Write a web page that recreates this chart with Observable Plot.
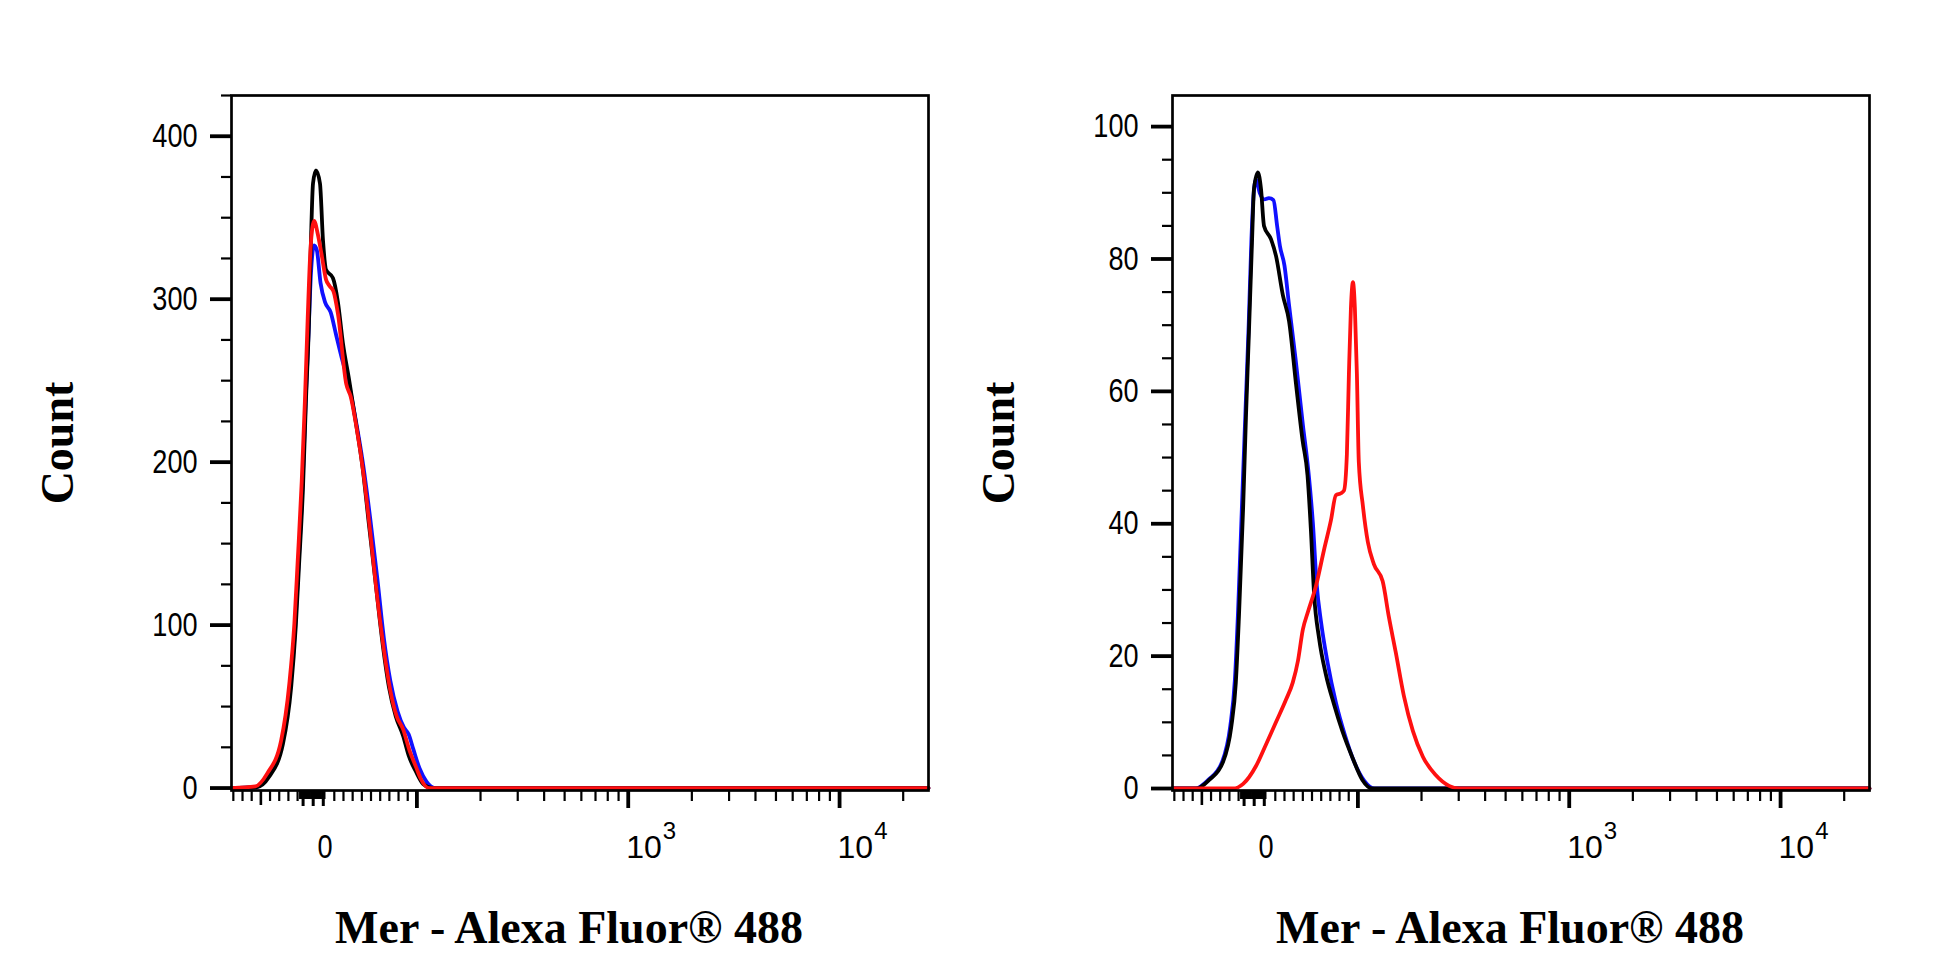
<!DOCTYPE html>
<html><head><meta charset="utf-8">
<script src="https://cdn.jsdelivr.net/npm/d3@7"></script>
<script src="https://cdn.jsdelivr.net/npm/@observablehq/plot@0.6"></script>
<style>
html,body{margin:0;padding:0;background:#fff;}
#row{display:flex;width:1946px;height:973px;overflow:hidden;}
#row svg{display:block;flex:none;}
</style></head><body><div id="row"></div>
<script>
// ---------- data (fluorescence value, count) ----------
const xMin = -102, xMax = 26350;
const xTitle = "Mer - Alexa Fluor® 488";
const yTitle = "Count";

const leftBlack = [[-102,0],[-75,0.5],[-61,7],[-46,27],[-37,62],[-32,99],[-28.5,136],[-24,186],[-21,236],[-17.6,286],[-15.4,336],[-13.2,371],[-10,379],[-5.6,371],[-2.3,336],[1,318],[8.5,313],[14,298],[19.4,273],[26,251],[33.6,224],[41,196],[47.7,162],[55.4,124],[63,87],[69.5,62],[77,44],[85,32],[91,20],[99,10],[107,2.5],[119,0],[26350,0]];
const leftBlue = [[-102,0],[-75,0.5],[-62,8],[-47,28],[-38,63],[-32.5,100],[-29,137],[-24.5,187],[-21.3,236],[-18,280],[-15.5,315],[-12,333],[-9,330],[-5,310],[0,298],[6,292],[12,278],[19,262],[25,250],[33,227],[41,200],[49,166],[57,128],[64,92],[71,66],[79,47],[86,37],[91,33],[96,24],[103,12],[111,4],[122,0],[26350,0]];
const leftRed = [[-102,0],[-76,1],[-63,9],[-48,29],[-39,64],[-33.5,101],[-30,138],[-25.5,188],[-22,238],[-19,288],[-16,330],[-12,348],[-8,340],[-4,328],[1,312],[5,308],[9,305],[14,291],[23,248],[28,240],[34,222],[42,192],[49,158],[56,121],[64,85],[71,60],[78,44],[85,36],[92,23],[99,13],[104,6],[114,0],[26350,0]];

const rightBlack = [[-102,0],[-76,0],[-62,1.3],[-47,4],[-38,9.3],[-33,16],[-29.6,26],[-25,42.6],[-22,56],[-18.7,69],[-15.4,82.5],[-13.2,90.6],[-9,93.1],[-5.6,90.6],[-2.3,85],[5.3,83],[10.7,80.5],[18.3,74.5],[25,70.6],[32.5,61.2],[39.7,52.6],[45.1,47.3],[48.7,39.3],[52.3,29.3],[57.8,22.6],[65,17.3],[74,12.7],[83,8.7],[94,4.7],[105,1.3],[117,0],[26350,0]];
const rightBlue = [[-102,0],[-77,0],[-63,1.3],[-48,4],[-39,9.5],[-34,16.5],[-30.5,27],[-26,44],[-22.5,57],[-19,70],[-16,83],[-13.5,90],[-11,92],[-7,90],[-2,89],[3,89.2],[8,88.9],[12,85],[15,82],[20,79],[25,73],[32,65],[40,55],[46,48],[51,40],[55,31],[60,25],[67,19],[76,13],[86,8],[96,4],[107,1.2],[120,0],[26350,0]];
const rightRed = [[-102,0],[-36,0],[-25,0.7],[-11,3.4],[0,6.7],[10.7,10],[21.6,13.4],[29,16],[34.7,19.3],[40,24],[45.6,26.7],[54.3,30.6],[63,36],[70.6,40.5],[76,44.3],[81.5,44.6],[84.8,45],[88,50.5],[90.2,62.6],[92.4,72.6],[94.6,76.5],[96.7,72.6],[98.9,62.6],[101,49.3],[105.6,42.7],[111.5,37.2],[119,33.9],[131,31.3],[140,26],[151,20.6],[165,14],[182,8.7],[203,4.8],[234,2],[270,0.4],[300,0],[26350,0]];

// ---------- axis ticks ----------
const xMajor = [100, 1000, 10000];
const xMid = [-70];
const xMinor = [-100,-90,-80,-60,-50,-40,-30,10,20,30,40,50,60,70,80,90,
  200,300,400,500,600,700,800,900,2000,3000,4000,5000,6000,7000,8000,9000,20000];
const xZeroCluster = [-27,-25,-23,-21,-19,-17,-15,-13,-11,-9,-7,-5,-3,-1];
const xZeroLong = [-24,-13,-2];
const xZeroLabel = [{v: 0, t: "0"}];
const xPowLabels = [{v: 1000, base: "10", exp: "3"}, {v: 10000, base: "10", exp: "4"}];

const leftYMajor = [0,100,200,300,400];
const leftYMinor = d3.range(25, 426, 25).filter(v => v % 100 !== 0);
const rightYMajor = [0,20,40,60,80,100];
const rightYMinor = d3.range(5, 101, 5).filter(v => v % 20 !== 0);

// biexponential-like display transform (linear below 100, log above)
const tf = v => v >= 100 ? Math.log10(v) : 2 + (v - 100) / (100 * Math.LN10);

const sansFont = "'Liberation Sans', sans-serif";
const serifFont = "'Liberation Serif', 'Times New Roman', serif";

function panel({series, yDomain, yMajor, yMinor, marginLeft, marginRight, width}) {
  const none = () => "";
  return Plot.plot({
    width, height: 973,
    marginTop: 95, marginBottom: 183, marginLeft, marginRight,
    style: {fontFamily: sansFont, fontSize: "33px", background: "white", color: "black"},
    x: {domain: [tf(xMin), tf(xMax)], label: null},
    y: {domain: yDomain, label: null},
    marks: [
      ...series.map(([data, color]) => Plot.line(data, {
        x: d => tf(d[0]), y: d => d[1], stroke: color, strokeWidth: 3.8,
        curve: "monotone-x", strokeLinejoin: "round"
      })),
      Plot.frame({stroke: "black", strokeWidth: 2.7}),
      Plot.axisY(yMinor, {anchor: "left", tickSize: 10, strokeWidth: 2.2, tickFormat: none, label: null}),
      Plot.axisY(yMajor, {anchor: "left", tickSize: 21, tickPadding: 13, strokeWidth: 3.8, label: null,
        tickFormat: d => String(d), fontSize: 33, fontFamily: sansFont}),
      Plot.axisX(xMinor.map(tf), {anchor: "bottom", tickSize: 11, strokeWidth: 2.2, tickFormat: none, label: null}),
      Plot.axisX(xMid.map(tf), {anchor: "bottom", tickSize: 15, strokeWidth: 2.6, tickFormat: none, label: null}),
      Plot.axisX(xZeroCluster.map(tf), {anchor: "bottom", tickSize: 9, strokeWidth: 2.6, tickFormat: none, label: null}),
      Plot.axisX(xZeroLong.map(tf), {anchor: "bottom", tickSize: 16, strokeWidth: 3, tickFormat: none, label: null}),
      Plot.axisX(xMajor.map(tf), {anchor: "bottom", tickSize: 18, strokeWidth: 3.8, tickFormat: none, label: null}),
      Plot.text(xZeroLabel, {x: d => tf(d.v), text: "t", frameAnchor: "bottom", dy: 57, lineAnchor: "middle",
        textAnchor: "middle", fontSize: 33, fontFamily: sansFont, fill: "black"}),
      Plot.text(xPowLabels, {x: d => tf(d.v), text: "base", frameAnchor: "bottom", dy: 57, dx: -2, lineAnchor: "middle",
        textAnchor: "start", fontSize: 32, fontFamily: sansFont, fill: "black"}),
      Plot.text([xTitle], {frameAnchor: "bottom", dy: 137.5, dx: -11, lineAnchor: "middle", textAnchor: "middle",
        fontSize: 46, fontWeight: "bold", fontFamily: serifFont, fill: "black"}),
      Plot.text([yTitle], {frameAnchor: "left", dx: -173, rotate: -90, lineAnchor: "middle", textAnchor: "middle",
        fontSize: 46, fontWeight: "bold", fontFamily: serifFont, fill: "black"})
    ]
  });
}

const row = document.getElementById("row");
const svgs = [
  panel({
    series: [[leftBlue, "#1010ff"], [leftBlack, "black"], [leftRed, "#ff1010"]],
    yDomain: [-1.5, 425], yMajor: leftYMajor, yMinor: leftYMinor,
    width: 973, marginLeft: 231, marginRight: 45
  }),
  panel({
    series: [[rightBlue, "#1010ff"], [rightBlack, "black"], [rightRed, "#ff1010"]],
    yDomain: [-0.3, 104.7], yMajor: rightYMajor, yMinor: rightYMinor,
    width: 973, marginLeft: 199, marginRight: 77
  })
];
svgs.forEach(s => row.appendChild(s));

svgs.forEach(svg => {
  // superscript exponents as tspans inside the "10" labels (left at natural width)
  const bases = Array.from(svg.querySelectorAll("text")).filter(t => t.textContent === xPowLabels[0].base);
  bases.forEach((t, i) => {
    if (!xPowLabels[i]) return;
    const ts = document.createElementNS("http://www.w3.org/2000/svg", "tspan");
    ts.setAttribute("dx", "1");
    ts.setAttribute("dy", "-19");
    ts.setAttribute("font-size", "24");
    ts.textContent = xPowLabels[i].exp;
    t.appendChild(ts);
    t.dataset.pow = "1";
  });
  // narrow the other sans tick-label glyphs (condensed look of the original)
  svg.querySelectorAll("text").forEach(t => {
    if (t.dataset.pow) return;
    const g = t.closest("[font-family]");
    if (g && g.getAttribute("font-family").includes("Serif")) return;
    if (!t.textContent) return;
    const len = t.getComputedTextLength();
    if (len > 0) {
      t.setAttribute("textLength", (len * 0.82).toFixed(1));
      t.setAttribute("lengthAdjust", "spacingAndGlyphs");
    }
  });
});
</script></body></html>
